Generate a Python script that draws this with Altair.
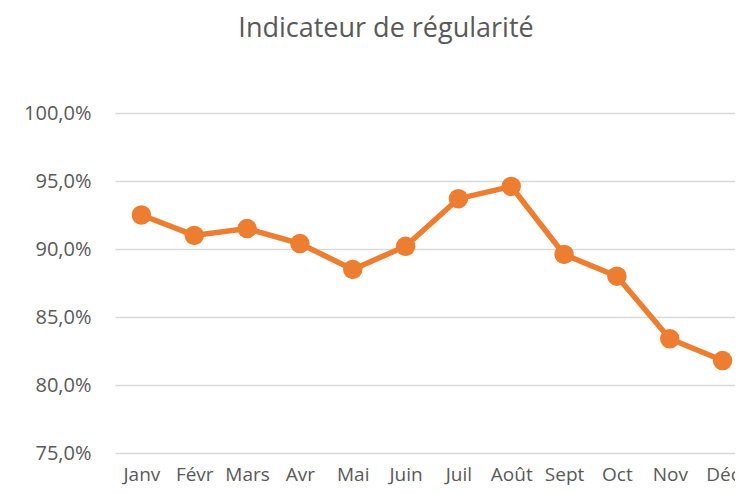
import altair as alt
import pandas as pd

mois = ["Janv", "Févr", "Mars", "Avr", "Mai", "Juin", "Juil", "Août", "Sept", "Oct", "Nov", "Déc"]
valeurs = [0.925, 0.910, 0.915, 0.904, 0.885, 0.902, 0.937, 0.946, 0.896, 0.880, 0.834, 0.818]
y_ticks = [0.75, 0.80, 0.85, 0.90, 0.95, 1.00]

df = pd.DataFrame({"mois": mois, "valeur": valeurs})

FONT = "Open Sans"
GREY = "#595959"
ORANGE = "#ED7D31"

chart = alt.Chart(df).mark_line(
    color=ORANGE,
    strokeWidth=5.5,
    point=alt.OverlayMarkDef(color=ORANGE, size=380, filled=True, opacity=1),
).encode(
    x=alt.X(
        "mois:N",
        sort=mois,
        scale=alt.Scale(type="point", padding=0.5),
        axis=alt.Axis(
            title=None, labelAngle=0, ticks=False, domain=False, grid=False,
            labelFont=FONT, labelFontSize=19, labelColor=GREY,
            labelBaseline="alphabetic", labelPadding=27,
        ),
    ),
    y=alt.Y(
        "valeur:Q",
        scale=alt.Scale(domain=[0.75, 1.0], nice=False, zero=False),
        axis=alt.Axis(
            title=None, values=y_ticks, ticks=False, domain=False,
            gridColor="#D9D9D9", gridWidth=1.5,
            labelFont=FONT, labelFontSize=20, labelColor=GREY, labelPadding=24,
            labelExpr="replace(format(datum.value, '.1%'), '.', ',')",
        ),
    ),
).properties(
    width=634,
    height=340,
    title=alt.TitleParams(
        "Indicateur de régularité",
        anchor="middle", dx=-46, offset=60,
        font=FONT, fontSize=27, fontWeight="normal", color=GREY,
    ),
    autosize=alt.AutoSizeParams(type="none"),
    padding={"left": 107, "top": 105, "right": -14, "bottom": 32},
).configure_view(stroke=None)

chart.save("out.html", embed_options={"renderer": "svg", "actions": False})
